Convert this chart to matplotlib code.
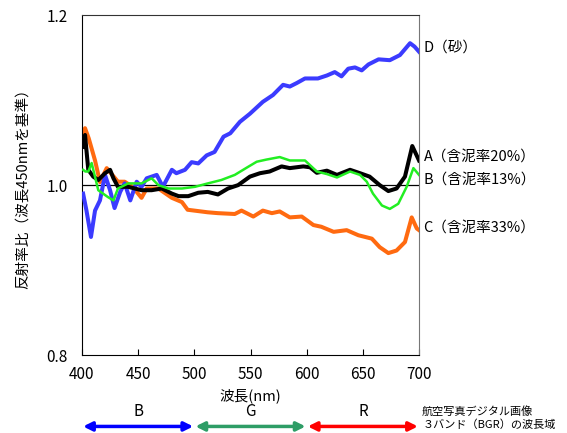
import matplotlib.pyplot as plt
import numpy as np

plt.rcParams['font.family'] = ['Noto Sans CJK JP', 'DejaVu Sans']

# A (含泥率20%) - black
wl_a = [401, 402.7, 405.6, 410, 414.5, 420.5, 425, 428, 432, 441, 453, 462, 471, 480, 486, 494.6,
        503.5, 512, 521, 530, 539, 549.5, 558.4, 567, 577.7, 585, 597, 603, 609, 618, 627, 638.6,
        647.5, 656, 665, 672.7, 680, 687.5, 694, 700]
val_a = [1.045, 1.059, 1.018, 1.010, 1.006, 1.014, 1.018, 1.008, 0.998, 0.998, 0.994, 0.994, 0.996, 0.990, 0.987, 0.987,
         0.991, 0.992, 0.989, 0.996, 1.000, 1.010, 1.014, 1.016, 1.022, 1.020, 1.022, 1.021, 1.0145, 1.017, 1.012, 1.018,
         1.014, 1.010, 1.000, 0.993, 0.996, 1.010, 1.046, 1.029]

# B (含泥率13%) - green
wl_b = [401, 403, 405.6, 408.6, 414.5, 423, 428, 432, 441, 453, 462, 468, 477, 489, 500.6, 512, 524, 536,
        546.6, 555.5, 564, 576, 585, 598.5, 609, 618, 627, 638.6, 647.5, 653.5, 659, 667, 674, 681.5,
        689, 695, 700]
val_b = [1.018, 1.016, 1.016, 1.026, 0.994, 0.986, 0.982, 0.996, 1.002, 1.002, 1.008, 1.000, 0.996, 0.996, 0.998, 1.002, 1.006, 1.012,
         1.0205, 1.0275, 1.030, 1.033, 1.029, 1.029, 1.016, 1.013, 1.009, 1.016, 1.012, 1.004, 0.990, 0.976, 0.972, 0.978,
         0.998, 1.020, 1.012]

# C (含泥率33%) - orange
wl_c = [401, 402.7, 406, 411.6, 416, 422, 432, 438, 445, 453, 457.6, 468, 480, 489, 494, 512, 521, 536,
        542, 552.5, 561, 569, 576, 585, 595.6, 606, 613, 624, 635.6, 646, 658, 665, 672.7, 680, 687.5,
        693.5, 698, 700]
val_c = [1.060, 1.067, 1.055, 1.029, 1.0035, 1.020, 1.004, 1.004, 0.998, 0.985, 0.996, 0.996, 0.985, 0.980, 0.971, 0.968, 0.967, 0.966,
         0.970, 0.963, 0.970, 0.967, 0.969, 0.962, 0.963, 0.953, 0.951, 0.945, 0.947, 0.941, 0.937, 0.927, 0.920, 0.923, 0.933,
         0.962, 0.949, 0.947]

# D (砂) - blue
wl_d = [401, 404, 408, 411.6, 416, 420.5, 425, 429, 434, 438, 443, 448.7, 453, 457.6, 466.5, 472, 480, 484,
        491.7, 497.6, 503.5, 511, 518, 526, 532, 540.6, 549.5, 561, 570, 579, 585, 591, 598.5, 610,
        618, 625, 631, 637, 643, 649, 655, 664, 674, 683, 692, 696, 700]
val_d = [0.990, 0.970, 0.939, 0.970, 0.982, 1.012, 0.994, 0.973, 0.992, 1.002, 0.982, 1.004, 0.998, 1.008, 1.012, 0.998, 1.018, 1.014,
         1.018, 1.027, 1.0255, 1.035, 1.039, 1.057, 1.061, 1.0745, 1.084, 1.098, 1.106, 1.118, 1.116, 1.120, 1.1255, 1.1255,
         1.129, 1.133, 1.128, 1.137, 1.1385, 1.135, 1.142, 1.148, 1.147, 1.153, 1.167, 1.163, 1.157]

labels = ['D（砂）', 'A（含泥率20%）', 'B（含泥率13%）', 'C（含泥率33%）']
label_y = [1.162, 1.034, 1.007, 0.950]

bands = ['B', 'G', 'R']
band_ranges = [(400, 500), (500, 600), (600, 700)]
band_colors = ['#0000ff', '#2e9d66', '#ff0000']

fig = plt.figure(figsize=(5.67, 4.33), dpi=100)
ax = fig.add_axes([0.1446, 0.180, 0.5944, 0.785])

ax.axhline(1.0, color='black', lw=0.9, zorder=1)
ax.plot(wl_d, val_d, color='#3b3bff', lw=2.9, zorder=3)
ax.plot(wl_c, val_c, color='#ff6a10', lw=2.9, zorder=2)
ax.plot(wl_a, val_a, color='black', lw=2.9, zorder=4)
ax.plot(wl_b, val_b, color='#22ee22', lw=1.8, zorder=5)

ax.set_xlim(400, 700)
ax.set_ylim(0.8, 1.2)
ax.set_xticks([400, 450, 500, 550, 600, 650, 700])
ax.set_yticks([0.8, 1.0, 1.2])
ax.set_yticklabels(['0.8', '1.0', '1.2'])
ax.tick_params(axis='x', direction='in', length=4, labelsize=11, pad=8)
ax.tick_params(axis='y', length=0, labelsize=11, pad=10)
ax.spines['right'].set_color('#777777')
ax.spines['top'].set_color('#333333')

ax.set_xlabel('波長(nm)', fontsize=10.5, labelpad=4)
ax.set_ylabel('反射率比（波長450nmを基準）', fontsize=10.5, labelpad=12)

for lab, y in zip(labels, label_y):
    ax.text(704, y, lab, fontsize=10.5, va='center', ha='left')

# band arrows below the axis
for name, (x0, x1), c in zip(bands, band_ranges, band_colors):
    ax.annotate('', xy=(x0 + 1, 0.716), xytext=(x1 - 1, 0.716), xycoords='data',
                annotation_clip=False,
                arrowprops=dict(arrowstyle='<|-|>', color=c, lw=2.5, mutation_scale=13,
                                shrinkA=0, shrinkB=0))
    ax.text((x0 + x1) / 2, 0.733, name, fontsize=11, ha='center', va='center')

ax.text(702, 0.734, '航空写真デジタル画像', fontsize=8, ha='left', va='center')
ax.text(703, 0.718, '３バンド（BGR）の波長域', fontsize=8, ha='left', va='center')

fig.savefig('out.png', dpi=100)
